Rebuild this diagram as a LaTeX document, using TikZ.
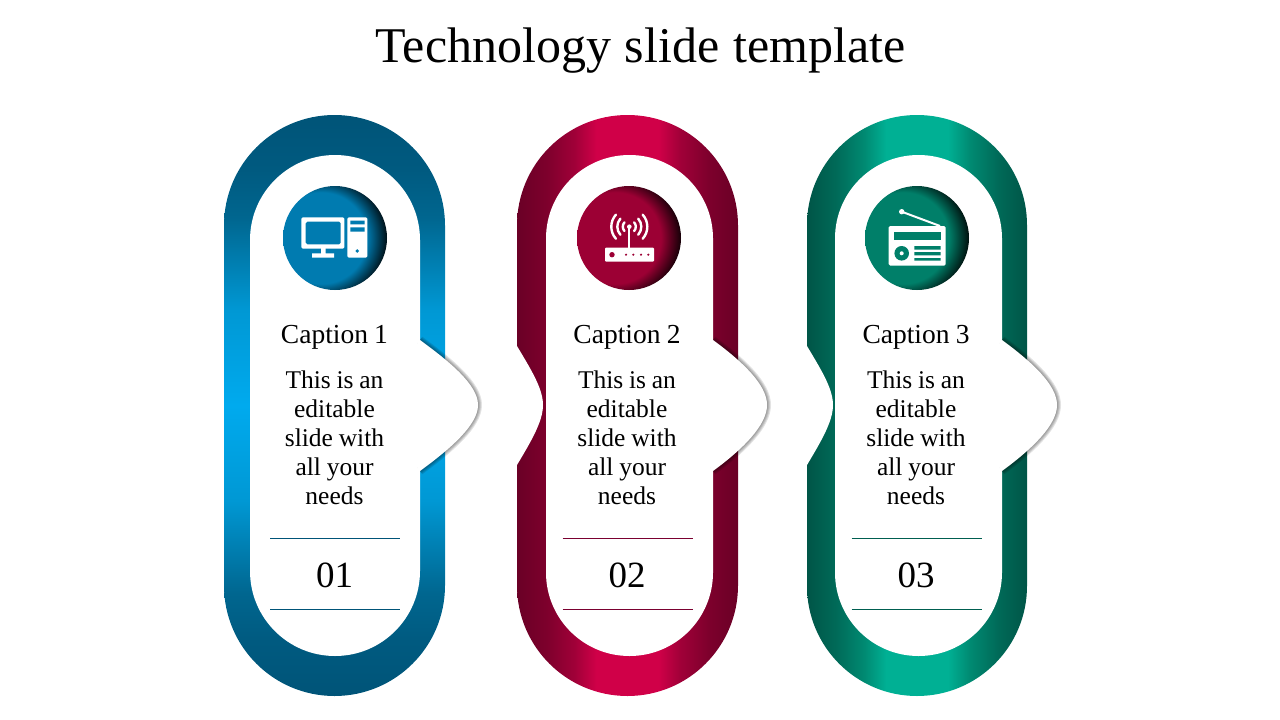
\documentclass[tikz,border=0pt]{standalone}
\usepackage{fontspec}
\setmainfont[WordSpace=0.9]{Liberation Serif}
\newfontfamily\titlefont[WordSpace=1.1]{Liberation Serif}
\usetikzlibrary{calc}
\definecolor{elemBlue}{HTML}{007BB0}
\definecolor{elemRed}{HTML}{9C0034}
\definecolor{elemTeal}{HTML}{007F69}
\definecolor{lineBlue}{HTML}{005478}
\definecolor{lineRed}{HTML}{7A0030}
\definecolor{lineTeal}{HTML}{005E50}
\definecolor{blueA}{HTML}{005A80}
\definecolor{blueB}{HTML}{00668F}
\definecolor{blueC}{HTML}{0098D4}
\definecolor{blueD}{HTML}{00AAEE}
\definecolor{redA}{HTML}{6A0026}
\definecolor{redB}{HTML}{7D002C}
\definecolor{redC}{HTML}{A00038}
\definecolor{redD}{HTML}{D00048}
\definecolor{tealA}{HTML}{005547}
\definecolor{tealB}{HTML}{006A58}
\definecolor{tealC}{HTML}{008A72}
\definecolor{tealD}{HTML}{00B094}
\pgfdeclareverticalshading{ringBlue}{100bp}{color(0bp)=(lineBlue); color(25bp)=(lineBlue); color(29.7bp)=(blueA); color(33.8bp)=(blueB); color(41.8bp)=(blueC); color(50bp)=(blueD); color(58.2bp)=(blueC); color(66.2bp)=(blueB); color(70.3bp)=(blueA); color(75bp)=(lineBlue); color(100bp)=(lineBlue)}
\pgfdeclarehorizontalshading{ringRed}{100bp}{color(0bp)=(redA); color(25bp)=(redA); color(31.6bp)=(redB); color(38bp)=(redC); color(43bp)=(redD); color(57bp)=(redD); color(62bp)=(redC); color(68.4bp)=(redB); color(75bp)=(redA); color(100bp)=(redA)}
\pgfdeclarehorizontalshading{ringTeal}{100bp}{color(0bp)=(tealA); color(25bp)=(tealA); color(31.6bp)=(tealB); color(38bp)=(tealC); color(43bp)=(tealD); color(57bp)=(tealD); color(62bp)=(tealC); color(68.4bp)=(tealB); color(75bp)=(tealA); color(100bp)=(tealA)}
\pgfdeclareradialshading{discBlue}{\pgfpoint{-12bp}{0bp}}{color(0bp)=(elemBlue); color(22bp)=(elemBlue); color(31bp)=(black); color(50bp)=(black)}
\pgfdeclareradialshading{discRed}{\pgfpoint{-12bp}{0bp}}{color(0bp)=(elemRed); color(22bp)=(elemRed); color(31bp)=(black); color(50bp)=(black)}
\pgfdeclareradialshading{discTeal}{\pgfpoint{-12bp}{0bp}}{color(0bp)=(elemTeal); color(22bp)=(elemTeal); color(31bp)=(black); color(50bp)=(black)}
\tikzset{
  caption/.style={font=\fontsize{27.5}{27.5}\selectfont,anchor=base},
  bodytext/.style={font=\fontsize{25.5}{29}\selectfont,align=flush center,text width=150pt},
  numtext/.style={font=\fontsize{37}{37}\selectfont},
  icon/.style={white,line cap=round}
}
\begin{document}
\begin{tikzpicture}[x=1pt,y=-1pt]
  \useasboundingbox (0,0) rectangle (1280,720);
  \node[font=\titlefont\fontsize{50}{50}\selectfont,anchor=base] (title) at (640.5,62) {Technology slide template};
  % rings: outer left/right, inner left/right, tip
  \foreach \n/\xa/\xb/\xc/\xd/\tip/\cx/\dx/\shn/\dsk/\lc in {
      1/224/445/250/420/478/335/335/ringBlue/discBlue/lineBlue,
      2/517/738/546/713/767/627.5/629/ringRed/discRed/lineRed,
      3/807/1027/835/1002/1057/916.5/917/ringTeal/discTeal/lineTeal} {
    \shade[shading=\shn] ({\xa},{115+(\xb-\xa)/2}) arc[start angle=180,end angle=360,radius=(\xb-\xa)/2]
      -- ({\xb},{696-(\xb-\xa)/2}) arc[start angle=0,end angle=180,radius=(\xb-\xa)/2] -- cycle;
    \fill[white] ({\xc},{155+(\xd-\xc)/2}) arc[start angle=180,end angle=360,radius=(\xd-\xc)/2]
      -- ({\xd},{656-(\xd-\xc)/2}) arc[start angle=0,end angle=180,radius=(\xd-\xc)/2] -- cycle;
    \foreach \w in {8,6,4,2}
      \draw[black,opacity=.11,line width=\w] (\xd,340) .. controls (\xd+30,362) and (\tip,385) .. (\tip,405)
        .. controls (\tip,425) and (\xd+30,449) .. (\xd,471);
    \fill[white] (\xd-2,340) -- (\xd,340) .. controls (\xd+30,362) and (\tip,385) .. (\tip,405)
      .. controls (\tip,425) and (\xd+30,449) .. (\xd,471) -- (\xd-2,471) -- cycle;
    \shade[shading=\dsk] (\dx,238) circle[radius=52];
    \node[caption] (cap\n) at (\cx-.5,343) {Caption \n};
    \node[bodytext] (body\n) at (\cx-.5,438) {This is an\\editable\\slide with\\all your\\needs};
    \node[numtext] (num\n) at (\cx-.5,575) {0\n};
    \draw[\lc,line width=1pt] (\cx-65,538.5) -- (\cx+65,538.5);
    \draw[\lc,line width=1pt] (\cx-65,609.5) -- (\cx+65,609.5);
  }
  % notches
  \foreach \xa in {517,807}
    \fill[white] (\xa-1,346) -- (\xa,346) .. controls (\xa+13,368) and (\xa+26,388) .. (\xa+26,405)
      .. controls (\xa+26,422) and (\xa+13,443) .. (\xa,465) -- (\xa-1,465) -- cycle;
  % computer
  \fill[white,rounded corners=1.5pt,even odd rule] (301.3,217.3) rectangle (344.3,248.7) (305.7,221.7) rectangle (340.7,244.3);
  \fill[white] (321,248) rectangle (325.7,254) (312,253.3) rectangle (334,257.7);
  \fill[white,rounded corners=1.5pt] (347.3,217.3) rectangle (367.3,257.7);
  \fill[elemBlue] (350.3,220.7) rectangle (364.7,224.3) (350.3,227.3) rectangle (364.7,231.7);
  \fill[elemBlue] (357.3,251) circle[radius=1.9];
  % router
  \fill[white,rounded corners=1pt] (605,247.7) rectangle (654,261.7);
  \draw[white,line width=1.8pt] (629.3,226.7) -- (629.3,248);
  \fill[white] (629.3,226.7) circle[radius=2.3];
  \foreach \r/\ang in {6.5/42,12/42,18/42} {
    \draw[icon,line width=2.4pt] (629.3,226.7) ++(-\ang:\r) arc[start angle=-\ang,end angle=\ang,radius=\r];
    \draw[icon,line width=2.4pt] (629.3,226.7) ++(180-\ang:\r) arc[start angle=180-\ang,end angle=180+\ang,radius=\r];
  }
  \fill[elemRed] (612,254.7) circle[radius=2.7];
  \foreach \x in {626,633.3,641,648.3}
    \fill[elemRed] (\x,254.7) circle[radius=1.2];
  % radio
  \draw[white,line width=2pt] (901.7,211.7) -- (940,226);
  \fill[white] (901.7,211.7) circle[radius=2.7];
  \fill[white,rounded corners=1.5pt] (888.7,226) rectangle (945.7,265.7);
  \fill[elemTeal] (894.3,231.7) rectangle (940.7,240.3);
  \fill[elemTeal] (901.7,253.3) circle[radius=7.3];
  \fill[white] (901.7,253.3) circle[radius=2];
  \fill[elemTeal] (914.3,246) rectangle (940.7,249.7) (914.3,252) rectangle (940.7,255.3) (914.3,258) rectangle (940.7,260.7);
\end{tikzpicture}
\end{document}
